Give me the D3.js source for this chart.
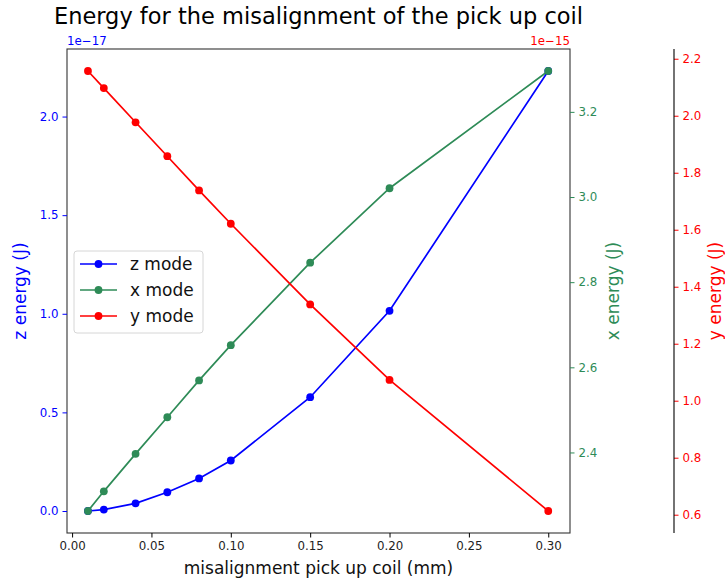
<!DOCTYPE html>
<html>
<head>
<meta charset="utf-8">
<script src="https://cdn.jsdelivr.net/npm/d3@7"></script>
<style>
  html, body { margin: 0; padding: 0; background: #fff; }
  svg { display: block; font-family: "DejaVu Sans", sans-serif; }
</style>
</head>
<body>
<svg id="chart" width="725" height="584"></svg>
<script>
// Misalignment of the pick up coil (mm)
const misalignment = [0.01, 0.02, 0.04, 0.06, 0.08, 0.10, 0.15, 0.20, 0.30];
// Energies, in units of the axis offsets (z: 1e-17 J, x and y: 1e-15 J)
const zEnergy = [0.000, 0.007, 0.039, 0.095, 0.165, 0.256, 0.577, 1.015, 2.231];
const xEnergy = [2.2625, 2.3087, 2.3967, 2.4827, 2.5693, 2.6520, 2.8457, 3.0206, 3.2960];
const yEnergy = [2.157, 2.097, 1.977, 1.858, 1.738, 1.621, 1.338, 1.073, 0.613];

const xTicks = [0.00, 0.05, 0.10, 0.15, 0.20, 0.25, 0.30];
const zTicks = [0.0, 0.5, 1.0, 1.5, 2.0];
const xeTicks = [2.4, 2.6, 2.8, 3.0, 3.2];
const yeTicks = [0.6, 0.8, 1.0, 1.2, 1.4, 1.6, 1.8, 2.0, 2.2];

const seriesNames = ["z mode", "x mode", "y mode"];
const colors = { z: "#0000ff", x: "#2e8b57", y: "#ff0000" };

const svg = d3.select("#chart");
const L = 67, R = 570, T = 49, B = 533;
const thirdSpineX = 674;
const fontTick = 11.8, fontLabel = 17, fontTitle = 22.5, fontLegend = 17;

// axis limits with 5% padding on each side of the data range
function padded(vals) {
  const [a, b] = d3.extent(vals);
  const m = (b - a) * 0.05;
  return [a - m, b + m];
}

const xDom = padded(misalignment);
const x = d3.scaleLinear().domain([xDom[0] + 0.0013, xDom[1] - 0.0008]).range([L, R]);
const yZ = d3.scaleLinear().domain(padded(zEnergy)).range([B, T]);
const yX = d3.scaleLinear().domain(padded(xEnergy)).range([B, T]);
const yY = d3.scaleLinear().domain(padded(yEnergy)).range([B, T]);

function styleAxis(g, color, fmt) {
  g.select(".domain").remove();
  g.selectAll(".tick line").attr("stroke", color).attr("stroke-width", 1);
  g.selectAll(".tick text").attr("fill", color).attr("font-size", fontTick)
    .attr("font-family", "DejaVu Sans");
}

// plotted series
function drawSeries(vals, yScale, color) {
  const pts = misalignment.map((d, i) => [x(d), yScale(vals[i])]);
  const g = svg.append("g");
  g.append("path")
    .attr("d", d3.line()(pts))
    .attr("fill", "none")
    .attr("stroke", color)
    .attr("stroke-width", 1.7);
  g.selectAll("circle").data(pts).join("circle")
    .attr("cx", d => d[0]).attr("cy", d => d[1])
    .attr("r", 3.9).attr("fill", color);
}

drawSeries(zEnergy, yZ, colors.z);
drawSeries(xEnergy, yX, colors.x);
drawSeries(yEnergy, yY, colors.y);

// frame
svg.append("rect")
  .attr("x", L).attr("y", T).attr("width", R - L).attr("height", B - T)
  .attr("fill", "none").attr("stroke", "#333").attr("stroke-width", 1.1);

// bottom axis
const gx = svg.append("g").attr("transform", `translate(0,${B})`)
  .call(d3.axisBottom(x).tickValues(xTicks).tickFormat(d3.format(".2f")).tickSizeInner(4.5).tickSizeOuter(0).tickPadding(4));
styleAxis(gx, "#000");
gx.selectAll(".tick text").attr("fill", "#222");

// left axis (z energy)
const gz = svg.append("g").attr("transform", `translate(${L},0)`)
  .call(d3.axisLeft(yZ).tickValues(zTicks).tickFormat(d3.format(".1f")).tickSizeInner(4.5).tickSizeOuter(0).tickPadding(4));
styleAxis(gz, colors.z);

// right axis (x energy)
const gxe = svg.append("g").attr("transform", `translate(${R},0)`)
  .call(d3.axisRight(yX).tickValues(xeTicks).tickFormat(d3.format(".1f")).tickSizeInner(4.5).tickSizeOuter(0).tickPadding(4));
styleAxis(gxe, colors.x);

// offset right axis (y energy)
const gye = svg.append("g").attr("transform", `translate(${thirdSpineX},0)`)
  .call(d3.axisRight(yY).tickValues(yeTicks).tickFormat(d3.format(".1f")).tickSizeInner(4.5).tickSizeOuter(0).tickPadding(4));
styleAxis(gye, colors.y);
gye.append("line").attr("x1", 0).attr("x2", 0).attr("y1", T).attr("y2", B)
  .attr("stroke", "#000").attr("stroke-width", 1.1);

// offset texts
svg.append("text").attr("x", L).attr("y", 45).attr("font-size", fontTick)
  .attr("fill", colors.z).text("1e\u221217");
svg.append("text").attr("x", R).attr("y", 45).attr("font-size", fontTick)
  .attr("text-anchor", "end").attr("fill", colors.y).text("1e\u221215");

// titles and axis labels
svg.append("text").attr("x", (L + R) / 2).attr("y", 24).attr("text-anchor", "middle")
  .attr("font-size", fontTitle).attr("fill", "#000")
  .text("Energy for the misalignment of the pick up coil");

svg.append("text").attr("x", (L + R) / 2).attr("y", 574).attr("text-anchor", "middle")
  .attr("font-size", fontLabel).attr("fill", "#111")
  .text("misalignment pick up coil (mm)");

function yLabel(xPos, txt, color) {
  svg.append("text")
    .attr("transform", `translate(${xPos},${(T + B) / 2}) rotate(-90)`)
    .attr("text-anchor", "middle").attr("font-size", fontLabel).attr("fill", color)
    .text(txt);
}
yLabel(26, "z energy (J)", colors.z);
yLabel(619, "x energy (J)", colors.x);
yLabel(721, "y energy (J)", colors.y);

// legend
const lg = svg.append("g").attr("transform", "translate(74,251)");
lg.append("rect").attr("width", 129).attr("height", 82).attr("rx", 3)
  .attr("fill", "#fff").attr("fill-opacity", 0.8).attr("stroke", "#d6d6d6").attr("stroke-width", 1);
const legendColors = [colors.z, colors.x, colors.y];
seriesNames.forEach((name, i) => {
  const cy = 13 + i * 26;
  lg.append("line").attr("x1", 6).attr("x2", 43).attr("y1", cy).attr("y2", cy)
    .attr("stroke", legendColors[i]).attr("stroke-width", 1.7);
  lg.append("circle").attr("cx", 24.5).attr("cy", cy).attr("r", 3.9).attr("fill", legendColors[i]);
  lg.append("text").attr("x", 56).attr("y", cy + 6).attr("font-size", fontLegend)
    .attr("fill", "#111").text(name);
});
</script>
</body>
</html>
